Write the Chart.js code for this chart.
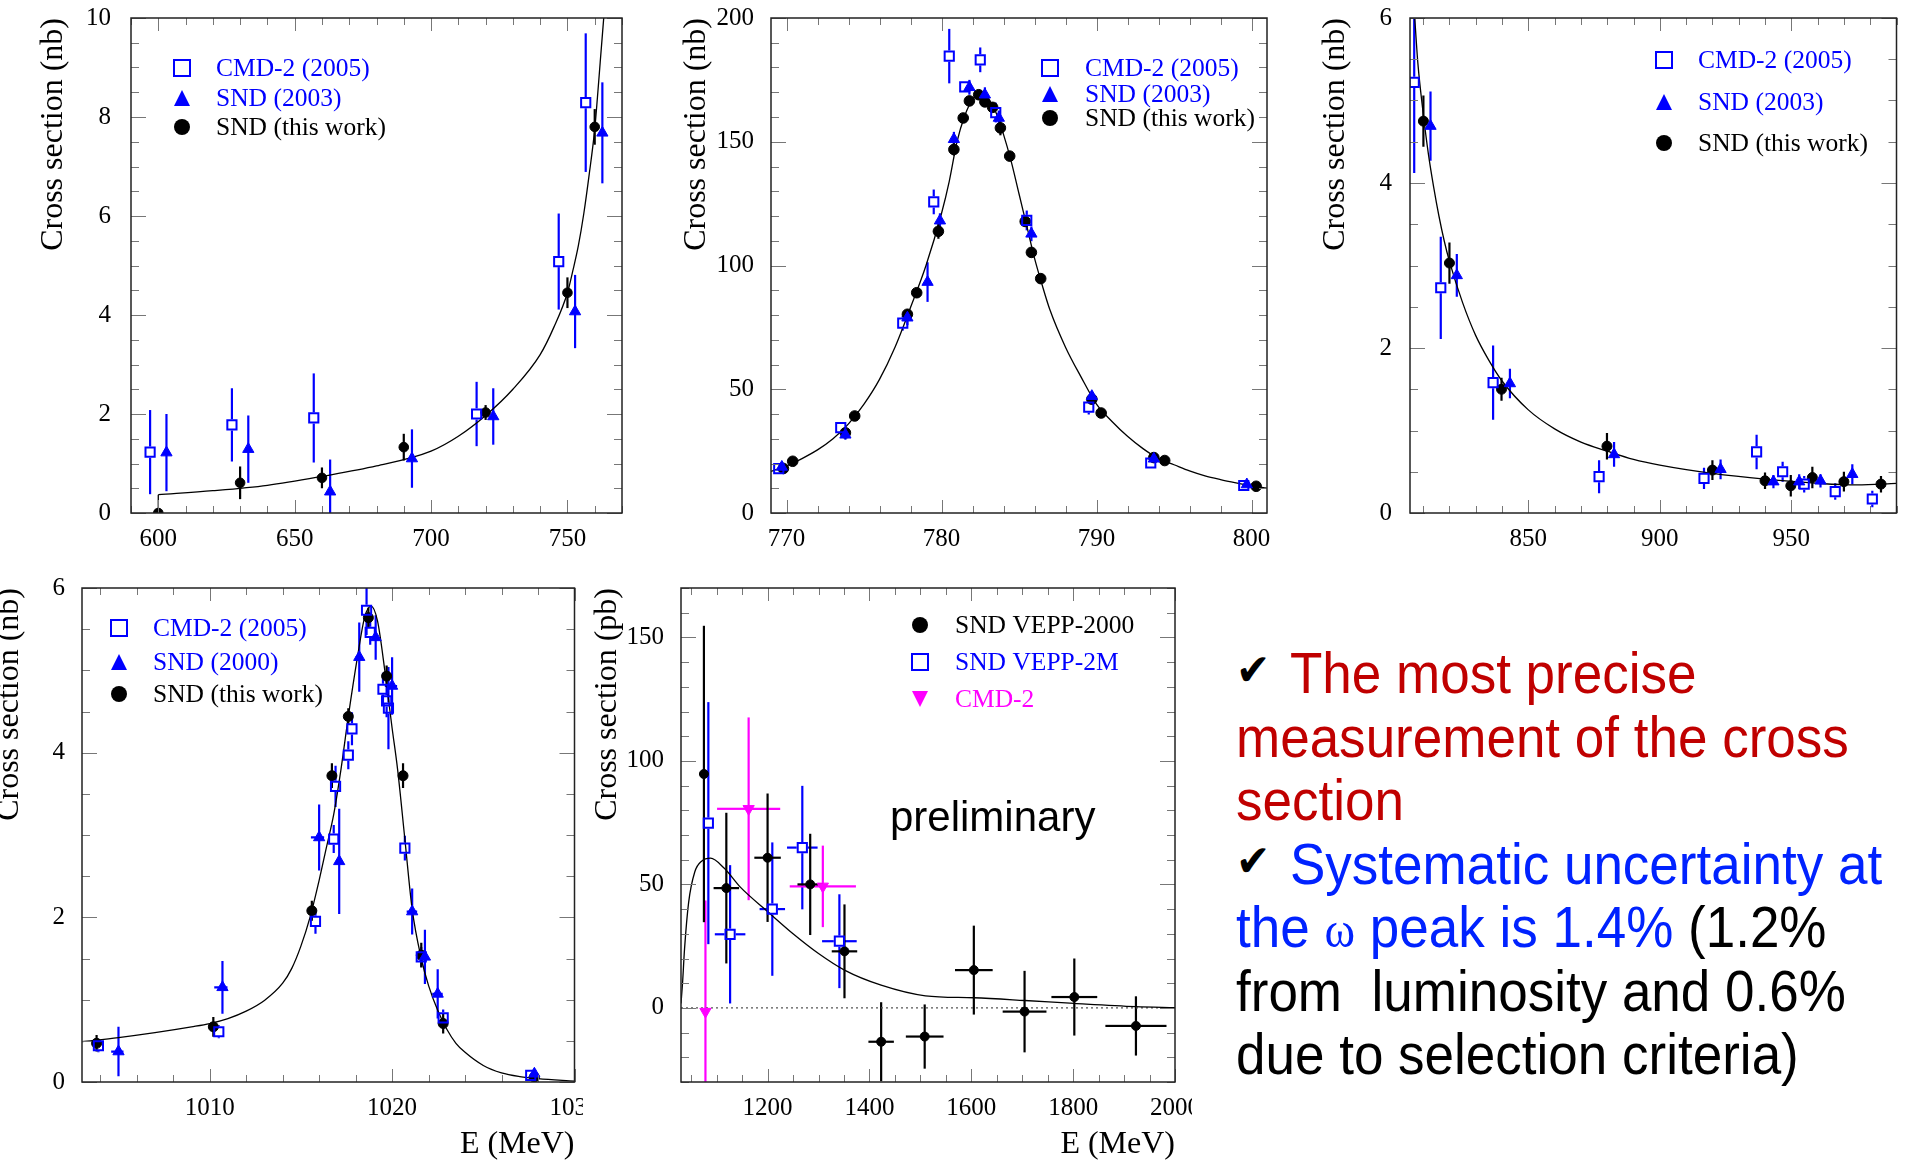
<!DOCTYPE html>
<html>
<head>
<meta charset="utf-8">
<script src="https://cdn.jsdelivr.net/npm/chart.js@4.4.1/dist/chart.umd.min.js"></script>
<style>
  body { margin: 0; background: #fff; width: 1905px; height: 1161px; overflow: hidden; position: relative; }
  .panel { position: absolute; }
  .note { position: absolute; left: 1236px; top: 642px; font-family: "Liberation Sans", Arial, sans-serif;
          font-size: 57px; line-height: 63.5px; color: #000; transform: scaleX(0.93); transform-origin: 0 0; }
  .note > div { white-space: pre; height: 63.5px; }
  .chk { display: inline-block; width: 58px; font-family: "DejaVu Sans", sans-serif; font-size: 44px; line-height: 1; vertical-align: 8px; }
  .red { color: #c00000; }
  .blue { color: #0022ff; }
  .omega { font-family: "Liberation Serif", serif; font-size: 50px; }
  .prelim { position: absolute; left: 890px; top: 796px; font: 42px/42px "Liberation Sans", Arial, sans-serif; color: #000; }
</style>
</head>
<body>
<div class="panel" style="left:0px;top:0px;width:640px;height:570px"><canvas id="c1"></canvas></div>
<div class="panel" style="left:640px;top:0px;width:640px;height:570px"><canvas id="c2"></canvas></div>
<div class="panel" style="left:1280px;top:0px;width:625px;height:570px"><canvas id="c3"></canvas></div>
<div class="panel" style="left:-30px;top:560px;width:613px;height:601px"><canvas id="c4"></canvas></div>
<div class="panel" style="left:590px;top:560px;width:602px;height:601px"><canvas id="c5"></canvas></div>
<div class="prelim">preliminary</div>
<div class="note"><div><span class="chk">✔</span><span class="red">The most precise</span></div><div class="red">measurement of the cross</div><div class="red">section</div><div><span class="chk">✔</span><span class="blue">Systematic uncertainty at</span></div><div><span class="blue">the <span class="omega">ω</span> peak is 1.4%</span> (1.2%</div><div>from  luminosity and 0.6%</div><div>due to selection criteria)</div></div>
<script>
// ---- panel 1: below the omega, 600-770 MeV (nb)
const p1CmdE = [597, 627, 657, 716.7, 746.8, 756.7];
const p1CmdS = [1.23, 1.78, 1.92, 2.0, 5.08, 8.29];
const p1CmdErr = [0.85, 0.74, 0.9, 0.65, 0.97, 1.4];
const p1Snd03E = [603, 633, 663, 693, 722.8, 752.8, 762.8];
const p1Snd03S = [1.22, 1.29, 0.43, 1.1, 1.95, 4.07, 7.68];
const p1Snd03Err = [0.78, 0.68, 0.65, 0.59, 0.57, 0.74, 1.02];
const p1SndE = [600, 630, 660, 690, 720, 750, 760];
const p1SndS = [0.0, 0.61, 0.71, 1.33, 2.03, 4.45, 7.8];
const p1SndErr = [0.05, 0.33, 0.21, 0.27, 0.15, 0.31, 0.36];
const p1FitE = [600, 620, 640, 660, 680, 700, 710, 720, 730, 740, 745, 750, 752, 754, 756, 758, 760, 761, 762, 763.3];
const p1FitS = [0.37, 0.45, 0.56, 0.74, 0.95, 1.25, 1.55, 1.97, 2.5, 3.2, 3.75, 4.45, 4.9, 5.4, 6.05, 6.85, 7.75, 8.4, 9.1, 10.0];
const p1StepE = [600, 600];
const p1StepS = [0, 0.37];
const p1XTicks = [600, 650, 700, 750];
const p1YTicks = [0, 2, 4, 6, 8, 10];

// ---- panel 2: omega peak (nb)
const p2CmdE = [769.5, 773.5, 777.5, 779.5, 780.5, 781.5, 782.5, 783.5, 785.5, 789.5, 793.5, 799.5];
const p2CmdS = [17.9, 34.5, 76.7, 125.7, 184.6, 172.2, 183.1, 161.8, 118.2, 42.8, 20.2, 11.1];
const p2CmdErr = [2, 2, 3, 5, 11, 2, 5, 4, 4, 3, 1.5, 1.2];
const p2Snd03E = [769.7, 773.8, 777.8, 779.1, 779.9, 780.8, 781.8, 782.8, 783.7, 785.8, 789.7, 793.7, 799.7];
const p2Snd03S = [18.6, 31.6, 78.9, 93.3, 118.1, 151, 172, 169, 159.6, 112.8, 47.2, 21.9, 11.5];
const p2Snd03Err = [2, 2, 3, 8, 3, 3, 3, 3, 3, 3, 2, 1.5, 1];
const p2SndE = [769.8, 770.4, 773.8, 774.4, 777.8, 778.4, 779.8, 780.8, 781.4, 781.8, 782.4, 782.8, 783.3, 783.8, 784.4, 785.4, 785.8, 786.4, 789.7, 790.3, 793.7, 794.4, 800.3];
const p2SndS = [18, 20.9, 32.4, 39.2, 80.3, 89, 113.8, 146.9, 159.6, 166.5, 169, 166.1, 163.9, 155.6, 144.2, 117.8, 105.3, 94.7, 46, 40.4, 22.4, 21.2, 10.8];
const p2SndErr = [1, 1, 1.5, 1.5, 2, 2, 3, 2.5, 2, 2, 2, 2, 2, 3, 2, 2, 2, 2, 1.5, 1.5, 1, 1, 0.8];
const p2FitE = [769, 770, 771, 772, 773, 774, 775, 776, 777, 778, 779, 780, 780.5, 781, 781.5, 782, 782.5, 783, 783.5, 784, 784.5, 785, 785.5, 786, 786.5, 787, 788, 789, 790, 791, 792, 793, 794, 795, 796, 797, 798, 799, 800, 801];
const p2FitS = [16.8, 19, 22, 25.5, 30, 36, 44, 54, 67, 83, 100, 121, 134, 150, 160.5, 167, 169.5, 167.5, 162, 153, 142, 129, 116, 103, 92, 82, 67, 55, 44, 37, 31, 26, 22, 19.5, 17, 15, 13.5, 12.2, 11, 10];
const p2XTicks = [770, 780, 790, 800];
const p2YTicks = [0, 50, 100, 150, 200];

// ---- panel 3: between omega and phi (nb)
const p3CmdE = [806.6, 816.7, 836.6, 876.9, 916.8, 936.8, 946.7, 954.9, 966.7, 980.8];
const p3CmdS = [5.22, 2.73, 1.58, 0.44, 0.42, 0.74, 0.5, 0.35, 0.26, 0.17];
const p3CmdErr = [1.1, 0.62, 0.45, 0.2, 0.13, 0.21, 0.12, 0.1, 0.1, 0.1];
const p3Snd03E = [812.8, 822.8, 843, 882.6, 923.1, 943.2, 953, 961.1, 973.2];
const p3Snd03S = [4.69, 2.88, 1.57, 0.71, 0.53, 0.38, 0.38, 0.39, 0.47];
const p3Snd03Err = [0.42, 0.26, 0.18, 0.15, 0.12, 0.08, 0.09, 0.08, 0.12];
const p3SndE = [810.1, 820, 839.8, 879.9, 920, 940, 949.8, 958, 970, 984.1];
const p3SndS = [4.75, 3.03, 1.5, 0.81, 0.52, 0.39, 0.33, 0.43, 0.38, 0.35];
const p3SndErr = [0.31, 0.25, 0.14, 0.16, 0.12, 0.1, 0.13, 0.13, 0.12, 0.1];
const p3FitE = [806.8, 808, 810, 812, 814, 816, 818, 820, 825, 830, 835, 840, 850, 860, 870, 880, 890, 900, 920, 940, 960, 975, 990];
const p3FitS = [6.0, 5.45, 4.85, 4.35, 3.95, 3.6, 3.3, 3.05, 2.55, 2.15, 1.85, 1.6, 1.25, 1.02, 0.86, 0.75, 0.65, 0.58, 0.48, 0.41, 0.36, 0.34, 0.36];
const p3XTicks = [850, 900, 950];
const p3YTicks = [0, 2, 4, 6];

// ---- panel 4: phi peak (nb)
const p4CmdE = [1003.9, 1010.5, 1015.8, 1016.8, 1016.9, 1017.6, 1017.8, 1018.6, 1018.8, 1019.5, 1019.7, 1019.8, 1020.7, 1021.6, 1022.8, 1027.6];
const p4CmdS = [0.44, 0.61, 1.95, 2.95, 3.59, 3.97, 4.29, 5.73, 5.46, 4.77, 4.63, 4.54, 2.84, 1.52, 0.78, 0.08];
const p4CmdErr = [0.08, 0.08, 0.15, 0.17, 0.25, 0.17, 0.2, 0.3, 0.15, 0.2, 0.2, 0.5, 0.15, 0.12, 0.1, 0.04];
const p4Snd00E = [1005, 1010.7, 1016, 1017.1, 1018.2, 1019.1, 1020, 1021.1, 1021.8, 1022.5, 1027.8];
const p4Snd00S = [0.37, 1.15, 2.97, 2.68, 5.16, 5.4, 4.81, 2.07, 1.52, 1.07, 0.1];
const p4Snd00Err = [0.3, 0.32, 0.4, 0.64, 0.42, 0.27, 0.35, 0.28, 0.33, 0.3, 0.05];
const p4Snd00XErr = [0.4, 0.45, 0.45, 0, 0.2, 0, 0.4, 0.3, 0, 0.3, 0];
const p4SndE = [1003.8, 1010.2, 1015.6, 1016.7, 1017.6, 1018.7, 1019.7, 1020.6, 1021.6, 1022.8, 1027.8];
const p4SndS = [0.47, 0.67, 2.08, 3.72, 4.44, 5.64, 4.93, 3.72, 1.54, 0.71, 0.06];
const p4SndErr = [0.1, 0.12, 0.12, 0.15, 0.1, 0.12, 0.13, 0.15, 0.15, 0.12, 0.05];
const p4FitE = [1003, 1005, 1007, 1009, 1010, 1011, 1012, 1013, 1014, 1014.5, 1015, 1015.5, 1016, 1016.4, 1016.8, 1017.2, 1017.6, 1018.1, 1018.5, 1018.85, 1019.2, 1019.6, 1020, 1020.3, 1020.7, 1021.1, 1021.6, 1022, 1022.5, 1023, 1023.5, 1024, 1025, 1026, 1027, 1028, 1030];
const p4FitS = [0.49, 0.54, 0.6, 0.67, 0.71, 0.77, 0.86, 0.99, 1.2, 1.38, 1.65, 2.0, 2.45, 2.85, 3.25, 3.8, 4.44, 5.16, 5.65, 5.78, 5.6, 5.0, 4.3, 3.8, 2.95, 2.1, 1.5, 1.17, 0.87, 0.64, 0.47, 0.36, 0.2, 0.11, 0.065, 0.04, 0.01];
const p4XTicks = [1010, 1020, 1030];
const p4YTicks = [0, 2, 4, 6];

// ---- panel 5: above the phi (pb)
const p5SndE = [1075, 1119, 1200, 1283.7, 1351, 1423, 1508.5, 1605, 1704.6, 1802.3, 1923.3];
const p5SndS = [94.7, 48.5, 60.8, 50, 22.9, -13.7, -11.6, 15.3, -1.5, 4.4, -7.3];
const p5SndErr = [60, 30.5, 26, 20.5, 19, 16, 13, 18, 16.5, 15.6, 12];
const p5SndXErr = [0, 25, 26, 25, 25, 25, 37, 37, 43, 45, 60];
const p5V2mE = [1083.7, 1126.4, 1209.3, 1268.2, 1341];
const p5V2mS = [74.8, 29.8, 40, 64.9, 27];
const p5V2mErr = [49, 28, 27, 25, 19];
const p5V2mXErr = [5, 30, 25, 30, 34];
const p5CmdE = [1078, 1162.8, 1308.5];
const p5CmdS = [-1.5, 80.6, 49.2];
const p5CmdErr = [45, 37, 16.5];
const p5CmdXErr = [0, 62, 65];
const p5FitE = [1030, 1033, 1037, 1045, 1057, 1071, 1088, 1115, 1146, 1200, 1250, 1300, 1351, 1423, 1510, 1605, 1705, 1802, 1923, 2000];
const p5FitS = [1.8, 10, 24, 42.7, 55, 59.5, 60.6, 56.5, 49, 39, 30, 22, 15.3, 9.2, 4.9, 4.1, 3, 1.8, 0.5, 0.1];
const p5ZeroE = [1030, 2000];
const p5ZeroS = [0, 0];
const p5XTicks = [1200, 1400, 1600, 1800, 2000];
const p5YTicks = [0, 50, 100, 150];

const serif = "'Liberation Serif', 'Times New Roman', serif";
const BLUE = '#0000ff';
const MAG = '#ff00ff';

function pts(xs, ys) {
  return xs.map((x, i) => ({ x: x, y: ys[i] }));
}

function fitLine(xs, ys, straight) {
  return {
    data: pts(xs, ys), showLine: true, pointRadius: 0, borderColor: '#000', borderWidth: 1.3,
    cubicInterpolationMode: straight ? 'default' : 'monotone', tension: 0, clip: 0, order: 1
  };
}

function squares(xs, ys, ey, ex, r) {
  return {
    data: pts(xs, ys), errY: ey, errX: ex, gap: r * 0.707 + 1, showLine: false, clip: 0, order: 0,
    pointStyle: 'rect', pointRadius: r, pointBorderWidth: 2, borderColor: BLUE, backgroundColor: 'rgba(0,0,0,0)'
  };
}

function tris(xs, ys, ey, ex, r, color, rot, dash) {
  return {
    data: pts(xs, ys), errY: ey, errX: ex, xDash: dash, gap: 0, showLine: false, clip: 0, order: 0,
    pointStyle: 'triangle', pointRadius: r, pointRotation: rot || 0, pointBorderWidth: 1,
    borderColor: color, backgroundColor: color
  };
}

function dots(xs, ys, ey, ex, r) {
  return {
    data: pts(xs, ys), errY: ey, errX: ex, gap: 0, showLine: false, clip: 0, order: 0,
    pointStyle: 'circle', pointRadius: r, pointBorderWidth: 1, borderColor: '#000', backgroundColor: '#000'
  };
}

function seg(ctx, x1, y1, x2, y2) {
  ctx.beginPath();
  ctx.moveTo(x1, y1);
  ctx.lineTo(x2, y2);
  ctx.stroke();
}

function drawMark(ctx, kind, x, y, s, color) {
  ctx.save();
  ctx.fillStyle = color;
  ctx.strokeStyle = color;
  ctx.lineWidth = 2;
  ctx.beginPath();
  if (kind === 'square') {
    ctx.strokeRect(x - s / 2, y - s / 2, s, s);
  } else if (kind === 'circle') {
    ctx.arc(x, y, s / 2, 0, Math.PI * 2);
    ctx.fill();
  } else if (kind === 'tri') {
    ctx.moveTo(x, y - s / 2); ctx.lineTo(x + s / 2, y + s / 2); ctx.lineTo(x - s / 2, y + s / 2);
    ctx.closePath(); ctx.fill();
  } else {
    ctx.moveTo(x, y + s / 2); ctx.lineTo(x + s / 2, y - s / 2); ctx.lineTo(x - s / 2, y - s / 2);
    ctx.closePath(); ctx.fill();
  }
  ctx.restore();
}

// ROOT look: error bars, frame with inner ticks on all four sides, legend inside the frame
function rootPlugin(cfg) {
  return {
    id: 'root_' + cfg.name,
    beforeDatasetsDraw(chart) {
      const { ctx, chartArea: a } = chart;
      const sx = chart.scales.x, sy = chart.scales.y;
      ctx.save();
      ctx.beginPath();
      ctx.rect(a.left, a.top, a.right - a.left, a.bottom - a.top);
      ctx.clip();
      ctx.lineWidth = 2.2;
      chart.data.datasets.forEach(ds => {
        if (!ds.errY) return;
        ctx.strokeStyle = ds.borderColor;
        const g = ds.gap || 0;
        ds.data.forEach((p, i) => {
          const px = sx.getPixelForValue(p.x), py = sy.getPixelForValue(p.y);
          const top = sy.getPixelForValue(p.y + ds.errY[i]);
          const bot = sy.getPixelForValue(p.y - ds.errY[i]);
          ctx.setLineDash([]);
          if (top < py - g) seg(ctx, px, top, px, py - g);
          if (bot > py + g) seg(ctx, px, py + g, px, bot);
          if (ds.errX && ds.errX[i]) {
            const l = sx.getPixelForValue(p.x - ds.errX[i]);
            const r = sx.getPixelForValue(p.x + ds.errX[i]);
            ctx.setLineDash(ds.xDash || []);
            if (l < px - g) seg(ctx, l, py, px - g, py);
            if (r > px + g) seg(ctx, px + g, py, r, py);
          }
        });
      });
      ctx.restore();
    },
    afterDraw(chart) {
      const { ctx, chartArea: a } = chart;
      const sx = chart.scales.x, sy = chart.scales.y;
      ctx.save();
      ctx.strokeStyle = '#777';
      ctx.lineWidth = 1;
      const majX = sx.ticks.map(t => t.value);
      for (let n = Math.ceil(sx.min / cfg.minorX - 1e-9); n * cfg.minorX <= sx.max + 1e-9; n++) {
        const v = n * cfg.minorX;
        const len = majX.some(m => Math.abs(m - v) < 1e-6) ? 13 : 7;
        const px = Math.round(sx.getPixelForValue(v)) + 0.5;
        seg(ctx, px, a.bottom, px, a.bottom - len);
        seg(ctx, px, a.top, px, a.top + len);
      }
      const majY = sy.ticks.map(t => t.value);
      for (let n = Math.ceil(sy.min / cfg.minorY - 1e-9); n * cfg.minorY <= sy.max + 1e-9; n++) {
        const v = n * cfg.minorY;
        const len = majY.some(m => Math.abs(m - v) < 1e-6) ? 15 : 8;
        const py = Math.round(sy.getPixelForValue(v)) + 0.5;
        seg(ctx, a.left, py, a.left + len, py);
        seg(ctx, a.right, py, a.right - len, py);
      }
      ctx.strokeStyle = '#222';
      ctx.lineWidth = 1.5;
      ctx.strokeRect(a.left, a.top, a.right - a.left, a.bottom - a.top);

      const lg = cfg.legend;
      ctx.font = '25.5px ' + serif;
      ctx.textBaseline = 'middle';
      ctx.textAlign = 'left';
      lg.items.forEach((it, i) => {
        const y = a.top + lg.rows[i];
        drawMark(ctx, it.kind, a.left + lg.mx, y, 16, it.color);
        ctx.fillStyle = it.tcolor;
        ctx.fillText(it.text, a.left + lg.tx, y + 1);
      });
      ctx.restore();
    }
  };
}

function makePanel(id, p) {
  const tickFont = { family: serif, size: 25 };
  const titleFont = { family: serif, size: 32, lineHeight: 1 };
  return new Chart(document.getElementById(id), {
    type: 'scatter',
    data: { datasets: p.datasets },
    options: {
      responsive: true,
      maintainAspectRatio: false,
      animation: false,
      devicePixelRatio: 1,
      events: [],
      layout: { padding: p.pad },
      plugins: { legend: { display: false }, tooltip: { enabled: false } },
      scales: {
        x: {
          type: 'linear', bounds: 'data', min: p.xMin, max: p.xMax,
          grid: { display: false, drawTicks: false }, border: { display: false },
          afterBuildTicks: s => { s.ticks = p.xTicks.map(v => ({ value: v })); },
          afterFit: s => { s.height = p.xH; s.paddingLeft = 0; s.paddingRight = 0; },
          ticks: { autoSkip: false, maxRotation: 0, padding: 11, color: '#000', font: tickFont, callback: v => String(v) },
          title: p.xTitle
            ? { display: true, text: p.xTitle, align: 'end', color: '#000', font: titleFont, padding: 0 }
            : { display: false }
        },
        y: {
          type: 'linear', bounds: 'data', min: p.yMin, max: p.yMax,
          grid: { display: false, drawTicks: false }, border: { display: false },
          afterBuildTicks: s => { s.ticks = p.yTicks.map(v => ({ value: v })); },
          afterFit: s => { s.width = p.yW; s.paddingTop = 0; s.paddingBottom = 0; },
          ticks: { autoSkip: false, padding: p.yPad, color: '#000', font: tickFont, callback: v => String(v) },
          title: { display: true, text: p.yTitle, align: 'end', color: '#000', font: titleFont, padding: { top: p.titleOff, bottom: 0 } }
        }
      }
    },
    plugins: [rootPlugin({ name: id, minorX: p.minorX, minorY: p.minorY, legend: p.legend })]
  });
}

const leg2003 = [
  { kind: 'square', color: BLUE, text: 'CMD-2 (2005)', tcolor: BLUE },
  { kind: 'tri', color: BLUE, text: 'SND (2003)', tcolor: BLUE },
  { kind: 'circle', color: '#000', text: 'SND (this work)', tcolor: '#000' }
];

makePanel('c1', {
  xMin: 590, xMax: 770, yMin: 0, yMax: 10, xTicks: p1XTicks, yTicks: p1YTicks, minorX: 10, minorY: 0.5,
  pad: { left: 0, top: 18, right: 18, bottom: 0 }, yW: 131, xH: 57, yPad: 20, titleOff: 38,
  yTitle: 'Cross section (nb)',
  legend: { mx: 51, tx: 85, rows: [50, 80, 109], items: leg2003 },
  datasets: [
    fitLine(p1FitE, p1FitS),
    fitLine(p1StepE, p1StepS, true),
    squares(p1CmdE, p1CmdS, p1CmdErr, null, 6.5),
    tris(p1Snd03E, p1Snd03S, p1Snd03Err, null, 6.5, BLUE),
    dots(p1SndE, p1SndS, p1SndErr, null, 4.8)
  ]
});

makePanel('c2', {
  xMin: 769, xMax: 801, yMin: 0, yMax: 200, xTicks: p2XTicks, yTicks: p2YTicks, minorX: 2, minorY: 10,
  pad: { left: 0, top: 18, right: 13, bottom: 0 }, yW: 131, xH: 57, yPad: 17, titleOff: 41,
  yTitle: 'Cross section (nb)',
  legend: { mx: 279, tx: 314, rows: [50, 76, 100], items: leg2003 },
  datasets: [
    fitLine(p2FitE, p2FitS),
    squares(p2CmdE, p2CmdS, p2CmdErr, null, 6.5),
    tris(p2Snd03E, p2Snd03S, p2Snd03Err, null, 6.5, BLUE),
    dots(p2SndE, p2SndS, p2SndErr, null, 5.3)
  ]
});

makePanel('c3', {
  xMin: 805, xMax: 990, yMin: 0, yMax: 6, xTicks: p3XTicks, yTicks: p3YTicks, minorX: 10, minorY: 0.5,
  pad: { left: 0, top: 18, right: 2, bottom: 0 }, yW: 130, xH: 57, yPad: 18, titleOff: 40,
  yTitle: 'Cross section (nb)',
  legend: { mx: 254, tx: 288, rows: [42, 84, 125], items: leg2003 },
  datasets: [
    fitLine(p3FitE, p3FitS),
    squares(p3CmdE, p3CmdS, p3CmdErr, null, 6.5),
    tris(p3Snd03E, p3Snd03S, p3Snd03Err, null, 6.5, BLUE),
    dots(p3SndE, p3SndS, p3SndErr, null, 5)
  ]
});

makePanel('c4', {
  xMin: 1003, xMax: 1030, yMin: 0, yMax: 6, xTicks: p4XTicks, yTicks: p4YTicks, minorX: 2, minorY: 0.5,
  pad: { left: 0, top: 28, right: 6, bottom: 0 }, yW: 112, xH: 79, yPad: 17, titleOff: 24,
  yTitle: 'Cross section (nb)', xTitle: 'E (MeV)',
  legend: {
    mx: 37, tx: 71, rows: [40, 74, 106], items: [
      { kind: 'square', color: BLUE, text: 'CMD-2 (2005)', tcolor: BLUE },
      { kind: 'tri', color: BLUE, text: 'SND (2000)', tcolor: BLUE },
      { kind: 'circle', color: '#000', text: 'SND (this work)', tcolor: '#000' }
    ]
  },
  datasets: [
    fitLine(p4FitE, p4FitS),
    squares(p4CmdE, p4CmdS, p4CmdErr, null, 6.5),
    tris(p4Snd00E, p4Snd00S, p4Snd00Err, p4Snd00XErr, 6.5, BLUE, 0, [5, 4]),
    dots(p4SndE, p4SndS, p4SndErr, null, 5)
  ]
});

makePanel('c5', {
  xMin: 1030, xMax: 2000, yMin: -30, yMax: 170, xTicks: p5XTicks, yTicks: p5YTicks, minorX: 50, minorY: 10,
  pad: { left: 0, top: 28, right: 17, bottom: 0 }, yW: 91, xH: 79, yPad: 17, titleOff: 2,
  yTitle: 'Cross section (pb)', xTitle: 'E (MeV)',
  legend: {
    mx: 239, tx: 274, rows: [37, 74, 111], items: [
      { kind: 'circle', color: '#000', text: 'SND VEPP-2000', tcolor: '#000' },
      { kind: 'square', color: BLUE, text: 'SND VEPP-2M', tcolor: BLUE },
      { kind: 'tridown', color: MAG, text: 'CMD-2', tcolor: MAG }
    ]
  },
  datasets: [
    Object.assign(fitLine(p5ZeroE, p5ZeroS, true), { borderDash: [2, 3], borderWidth: 1.3, borderColor: '#555', order: 2 }),
    fitLine(p5FitE, p5FitS),
    squares(p5V2mE, p5V2mS, p5V2mErr, p5V2mXErr, 6.5),
    tris(p5CmdE, p5CmdS, p5CmdErr, p5CmdXErr, 6.5, MAG, 180),
    dots(p5SndE, p5SndS, p5SndErr, p5SndXErr, 4.5)
  ]
});
</script>
</body>
</html>
